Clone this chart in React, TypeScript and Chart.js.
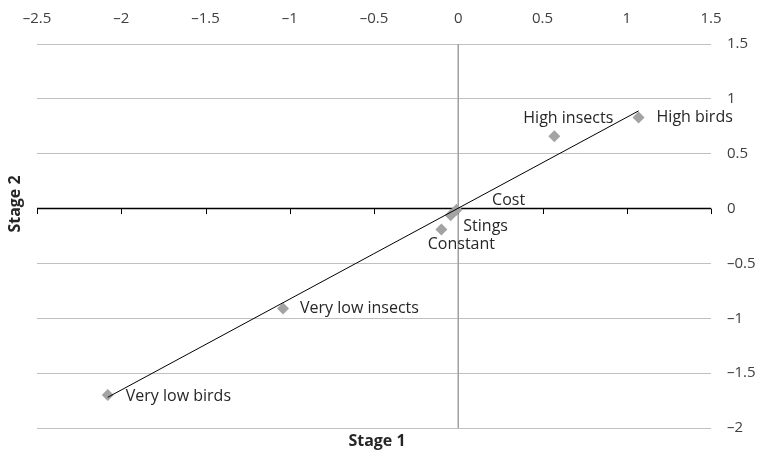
import React, { useEffect, useRef } from 'react';
import { Chart, registerables } from 'chart.js';

Chart.register(...registerables);

// ---- data ----
const categories = ['High birds', 'High insects', 'Cost', 'Stings', 'Constant', 'Very low insects', 'Very low birds'];
const stage1 = [1.07, 0.57, -0.01, -0.045, -0.1, -1.04, -2.08];
const stage2 = [0.83, 0.66, -0.01, -0.06, -0.19, -0.91, -1.7];
const trendStage1 = [-2.08, 1.07];
const trendStage2 = [-1.72, 0.89];
const xRange = [-2.5, 1.5];
const yRange = [-2, 1.5];
const tickStep = 0.5;
const xTitle = 'Stage 1';
const yTitle = 'Stage 2';

const FONT = '"Open Sans", "Liberation Sans", sans-serif';

function fmt(v: number): string {
  return v < 0 ? '\u2013' + String(Math.abs(v)) : String(v);
}

const labelPlacement: Record<string, { dx: number; dy: number; align: CanvasTextAlign }> = {
  'High birds': { dx: 18, dy: 0, align: 'left' },
  'High insects': { dx: 14, dy: -18, align: 'center' },
  'Cost': { dx: 52, dy: -9, align: 'center' },
  'Stings': { dx: 35, dy: 11, align: 'center' },
  'Constant': { dx: 20, dy: 15, align: 'center' },
  'Very low insects': { dx: 17, dy: 0, align: 'left' },
  'Very low birds': { dx: 18, dy: 1, align: 'left' },
};

const axesPlugin = {
  id: 'crossAxes',
  beforeDatasetsDraw(chart: any) {
    const { ctx, chartArea } = chart;
    const xs = chart.scales.x;
    const ys = chart.scales.y;
    ctx.save();
    const x0 = xs.getPixelForValue(0);
    ctx.strokeStyle = '#a0a0a0';
    ctx.lineWidth = 1.5;
    ctx.beginPath();
    ctx.moveTo(x0, chartArea.top);
    ctx.lineTo(x0, chartArea.bottom);
    ctx.stroke();
    const y0 = ys.getPixelForValue(0);
    ctx.strokeStyle = '#000000';
    ctx.lineWidth = 1.5;
    ctx.beginPath();
    ctx.moveTo(chartArea.left, y0);
    ctx.lineTo(chartArea.right, y0);
    ctx.stroke();
    ctx.lineWidth = 1;
    for (const t of xs.ticks) {
      const px = Math.round(xs.getPixelForValue(t.value)) + 0.5;
      ctx.beginPath();
      ctx.moveTo(px, y0);
      ctx.lineTo(px, y0 + 5.5);
      ctx.stroke();
    }
    ctx.restore();
  },
};

const labelsPlugin = {
  id: 'pointLabels',
  afterDatasetsDraw(chart: any) {
    const { ctx } = chart;
    const meta = chart.getDatasetMeta(0);
    ctx.save();
    ctx.font = '16px ' + FONT;
    ctx.fillStyle = '#262626';
    ctx.textBaseline = 'middle';
    meta.data.forEach((el: any, i: number) => {
      const name = categories[i];
      const p = labelPlacement[name] || { dx: 10, dy: 0, align: 'left' };
      ctx.textAlign = p.align;
      ctx.fillText(name, el.x + p.dx, el.y + p.dy);
    });
    ctx.restore();
  },
  afterDraw(chart: any) {
    const { ctx, chartArea } = chart;
    ctx.save();
    ctx.font = 'bold 16px ' + FONT;
    ctx.fillStyle = '#262626';
    ctx.textAlign = 'center';
    ctx.textBaseline = 'middle';
    ctx.fillText(xTitle, (chartArea.left + chartArea.right) / 2 + 3, 441);
    ctx.translate(15, 204);
    ctx.rotate(-Math.PI / 2);
    ctx.fillText(yTitle, 0, 0);
    ctx.restore();
  },
};

export default function App() {
  const ref = useRef<HTMLCanvasElement | null>(null);
  useEffect(() => {
    document.body.style.margin = '0';
    if (!ref.current) return;
    const tickFont = { family: FONT, size: 15 };
    const chart = new Chart(ref.current, {
      type: 'scatter',
      data: {
        datasets: [
          {
            label: 'points',
            data: categories.map((_, i) => ({ x: stage1[i], y: stage2[i] })),
            pointStyle: 'rectRot',
            pointRadius: 6,
            pointHoverRadius: 6,
            backgroundColor: '#a3a3a3',
            borderColor: '#a3a3a3',
            borderWidth: 0,
            order: 1,
          },
          {
            label: 'trend',
            data: trendStage1.map((x, i) => ({ x, y: trendStage2[i] })),
            showLine: true,
            borderColor: '#000000',
            borderWidth: 1,
            pointRadius: 0,
            order: 0,
          },
        ],
      } as any,
      options: {
        animation: false,
        responsive: false,
        maintainAspectRatio: false,
        layout: { padding: { left: 37, bottom: 26, top: 0, right: 0 } },
        plugins: { legend: { display: false }, tooltip: { enabled: false } },
        scales: {
          x: {
            type: 'linear',
            position: 'top',
            min: xRange[0],
            max: xRange[1],
            ticks: { stepSize: tickStep, padding: 16, color: '#404040', font: tickFont, callback: (v: any) => fmt(Number(v)) },
            grid: { display: false, drawTicks: false },
            border: { display: false },
            afterFit: (s: any) => { s.height = 44; },
          },
          y: {
            type: 'linear',
            position: 'right',
            min: yRange[0],
            max: yRange[1],
            ticks: { stepSize: tickStep, padding: 16, color: '#404040', font: tickFont, callback: (v: any) => fmt(Number(v)) },
            grid: { color: '#c0c0c0', lineWidth: 1, drawTicks: false },
            border: { display: false },
            afterFit: (s: any) => { s.width = 52; },
          },
        },
      } as any,
      plugins: [axesPlugin, labelsPlugin],
    });
    return () => chart.destroy();
  }, []);
  return (
    <div style={{ width: 763, height: 454 }}>
      <canvas ref={ref} width={763} height={454} />
    </div>
  );
}
